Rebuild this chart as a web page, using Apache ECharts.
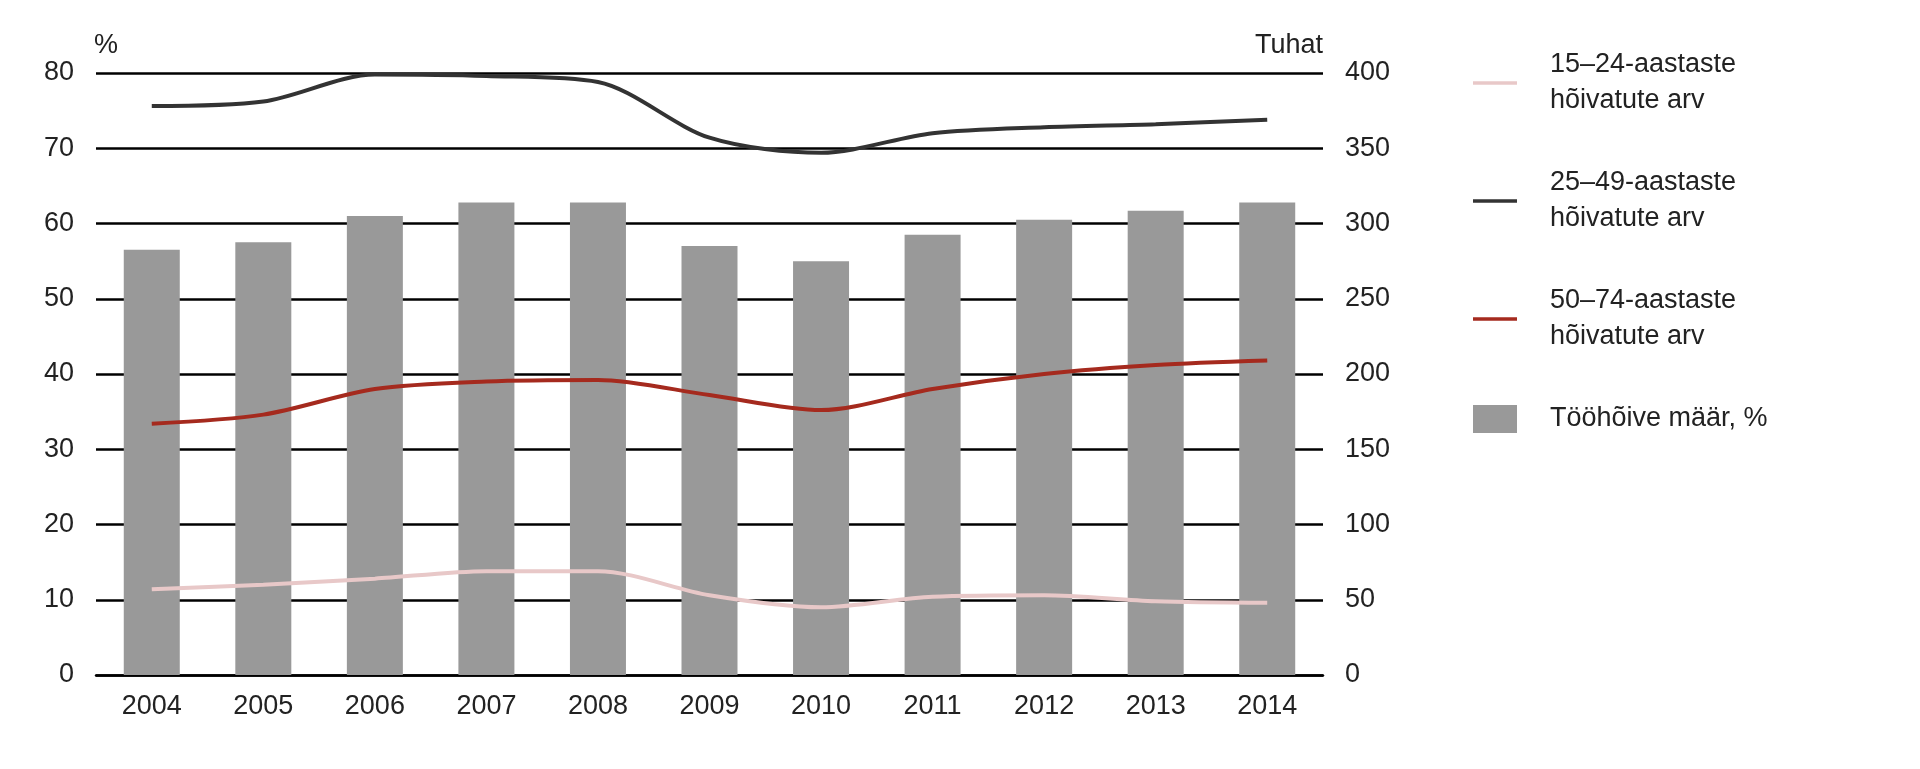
<!DOCTYPE html><html><head><meta charset="utf-8"><script src="https://cdn.jsdelivr.net/npm/echarts@6/dist/echarts.min.js"></script><style>html,body{margin:0;background:#fff}#c{width:1920px;height:769px}</style></head><body><div id="c"></div><script>
const years=['2004','2005','2006','2007','2008','2009','2010','2011','2012','2013','2014'];
const rate=[56.5,57.5,61,62.8,62.8,57,55,58.5,60.5,61.7,62.8];
const y1524=[57,60,64,69,69,53,45,52,53,49,48];
const y2549=[378,381,399,398,394,357,347,360,364,366,369];
const y5074=[167,173,190,195,196,186,176,190,200,206,209];
const F='Liberation Sans';
const c=echarts.init(document.getElementById('c'));
const lab={color:'#222',fontFamily:F,fontSize:27};
c.setOption({animation:false,
grid:{left:96,right:597,top:73,bottom:94},
legend:{orient:'vertical',left:1468,top:42,itemGap:46,itemWidth:44,itemHeight:28,textStyle:{...lab,lineHeight:36,padding:[0,0,0,28]},
 data:[{name:'15–24-aastaste\nhõivatute arv',icon:'path://M0,13h40v3h-40z'},{name:'25–49-aastaste\nhõivatute arv',icon:'path://M0,13h40v3h-40z'},{name:'50–74-aastaste\nhõivatute arv',icon:'path://M0,13h40v3h-40z'},{name:'Tööhõive määr, %',icon:'rect',itemWidth:36,itemHeight:40}]},
xAxis:{type:'category',data:years,axisTick:{show:false},axisLine:{lineStyle:{color:'#000',width:2.5}},axisLabel:{...lab,margin:18}},
yAxis:[{type:'value',min:0,max:80,interval:10,name:'%',nameLocation:'end',nameGap:14,nameTextStyle:{...lab,align:'right',padding:[0,-22,0,0]},axisLabel:{...lab,margin:22},axisLine:{show:false},axisTick:{show:false},splitLine:{lineStyle:{color:'#000',width:2.5}}},
{type:'value',min:0,max:400,interval:50,name:'Tuhat',nameGap:14,nameTextStyle:{...lab,align:'right'},axisLabel:{...lab,margin:22},axisLine:{show:false},axisTick:{show:false},splitLine:{show:false}}],
series:[
{name:'Tööhõive määr, %',type:'bar',data:rate,barWidth:56,itemStyle:{color:'#999999'},z:1},
{name:'15–24-aastaste\nhõivatute arv',type:'line',yAxisIndex:1,data:y1524,smooth:0.3,symbol:'none',lineStyle:{color:'#e8c8c8',width:4},itemStyle:{color:'#e8c8c8'},z:3},
{name:'25–49-aastaste\nhõivatute arv',type:'line',yAxisIndex:1,data:y2549,smooth:0.3,symbol:'none',lineStyle:{color:'#333',width:4},itemStyle:{color:'#333'},z:3},
{name:'50–74-aastaste\nhõivatute arv',type:'line',yAxisIndex:1,data:y5074,smooth:0.3,symbol:'none',lineStyle:{color:'#a52a1e',width:4},itemStyle:{color:'#a52a1e'},z:3}
]});
</script></body></html>
